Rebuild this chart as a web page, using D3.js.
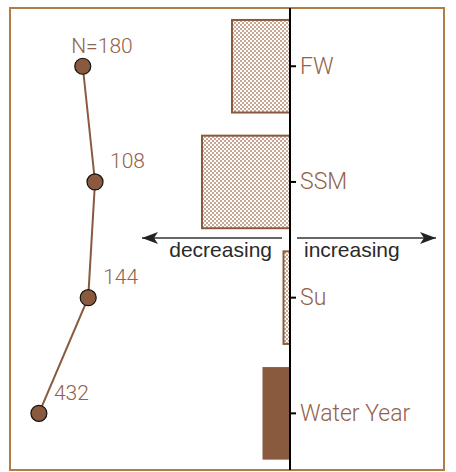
<!DOCTYPE html>
<html>
<head>
<meta charset="utf-8">
<script src="https://cdn.jsdelivr.net/npm/d3@7"></script>
<style>
  html, body { margin: 0; padding: 0; background: #fff; }
  svg { display: block; }
  text { font-family: "Liberation Sans", Arial, sans-serif; }
</style>
</head>
<body>
<script>
// ---- data ----
const categories = ["FW", "SSM", "Su", "Water Year"];
const changeValues = [-5.8, -8.8, -0.65, -2.75];   // bar extent (negative = decreasing)
const solidCategories = ["Water Year"];
const sampleSizes = [180, 108, 144, 432];
const lineValues = [0.428, 0.5, 0.46, 0.17];
const directionLabels = ["decreasing", "increasing"];

// ---- layout ----
const W = 456, H = 472;
const frame = { x0: 10, y0: 8, x1: 444, y1: 470 };
const brown = "#8a5a3e";
const textBrown = "#93624a";
const labelFont = "Roboto, 'Liberation Sans', Arial, sans-serif";

const svg = d3.select("body").append("svg")
  .attr("width", W).attr("height", H);

const defs = svg.append("defs");
const pat = defs.append("pattern")
  .attr("id", "checks").attr("patternUnits", "userSpaceOnUse")
  .attr("width", 4).attr("height", 4);
pat.append("rect").attr("width", 4).attr("height", 4).attr("fill", "#fff");
pat.append("rect").attr("x", 0).attr("y", 0).attr("width", 2).attr("height", 2).attr("fill", "#c8a693");
pat.append("rect").attr("x", 2).attr("y", 2).attr("width", 2).attr("height", 2).attr("fill", "#c8a693");

defs.append("marker")
  .attr("id", "arrow").attr("viewBox", "0 0 16 12")
  .attr("refX", 16).attr("refY", 6)
  .attr("markerWidth", 16).attr("markerHeight", 12)
  .attr("markerUnits", "userSpaceOnUse")
  .attr("orient", "auto")
  .append("path").attr("d", "M0,0 L16,6 L0,12 L4,6 Z").attr("fill", "#222");

// scales
const y = d3.scaleBand().domain(categories)
  .range([8.4, 471.2]).paddingInner(0.2).paddingOuter(0.1);
const x = d3.scaleLinear().domain([-28, 15.4]).range([frame.x0, frame.x1]);
const xLine = d3.scaleLinear().domain([0, 1]).range([10, 180]);

// frame
svg.append("rect")
  .attr("x", frame.x0).attr("y", frame.y0)
  .attr("width", frame.x1 - frame.x0).attr("height", frame.y1 - frame.y0)
  .attr("fill", "none").attr("stroke", "#b27c45").attr("stroke-width", 2);

// bars
svg.selectAll("rect.bar").data(categories).join("rect")
  .attr("class", "bar")
  .attr("x", (d, i) => x(Math.min(0, changeValues[i])))
  .attr("y", d => y(d))
  .attr("width", (d, i) => Math.abs(x(changeValues[i]) - x(0)))
  .attr("height", y.bandwidth())
  .attr("fill", d => solidCategories.includes(d) ? brown : "url(#checks)")
  .attr("stroke", d => solidCategories.includes(d) ? "none" : brown)
  .attr("stroke-width", 2);

// zero axis with category ticks
const axis = svg.append("g")
  .attr("transform", `translate(${x(0)},0)`)
  .call(d3.axisRight(y).tickSize(6).tickPadding(4));
axis.select(".domain").remove();
axis.selectAll(".tick line").attr("stroke", "#000").attr("stroke-width", 2);
axis.selectAll(".tick text")
  .attr("fill", textBrown).attr("font-size", 23).attr("font-weight", 300)
  .style("font-family", labelFont);
svg.append("line")
  .attr("x1", x(0)).attr("x2", x(0))
  .attr("y1", frame.y0).attr("y2", frame.y1)
  .attr("stroke", "#000").attr("stroke-width", 2);

// direction arrows
const arrowY = 238;
svg.append("line")
  .attr("x1", x(0) - 8).attr("x2", 142)
  .attr("y1", arrowY).attr("y2", arrowY)
  .attr("stroke", "#333").attr("stroke-width", 1.5)
  .attr("marker-end", "url(#arrow)");
svg.append("line")
  .attr("x1", x(0) + 7).attr("x2", 436)
  .attr("y1", arrowY).attr("y2", arrowY)
  .attr("stroke", "#333").attr("stroke-width", 1.5)
  .attr("marker-end", "url(#arrow)");
svg.append("text")
  .attr("x", x(0) - 18).attr("y", 256.5)
  .attr("text-anchor", "end").attr("font-size", 21).attr("fill", "#2a2a2a")
  .text(directionLabels[0]);
svg.append("text")
  .attr("x", x(0) + 14).attr("y", 256.5)
  .attr("text-anchor", "start").attr("font-size", 21).attr("fill", "#2a2a2a")
  .text(directionLabels[1]);

// sample size line
const cy = d => y(d) + y.bandwidth() / 2;
const pts = categories.map((c, i) => [xLine(lineValues[i]), cy(c)]);
svg.append("path")
  .attr("d", d3.line()(pts))
  .attr("fill", "none").attr("stroke", brown).attr("stroke-width", 2);
svg.selectAll("circle.pt").data(pts).join("circle")
  .attr("class", "pt")
  .attr("cx", d => d[0]).attr("cy", d => d[1]).attr("r", 8)
  .attr("fill", brown).attr("stroke", "#111").attr("stroke-width", 1.2);
svg.selectAll("text.n").data(pts).join("text")
  .attr("class", "n")
  .attr("x", d => d[0] + 15).attr("y", d => d[1] - 13.5)
  .attr("font-size", 21).attr("font-weight", 300).attr("fill", textBrown)
  .style("font-family", labelFont)
  .text((d, i) => sampleSizes[i]);
svg.append("text")
  .attr("x", pts[0][0] + 15).attr("y", pts[0][1] - 13.5)
  .attr("text-anchor", "end").attr("font-size", 21).attr("font-weight", 300).attr("fill", textBrown)
  .style("font-family", labelFont)
  .text("N=");
</script>
</body>
</html>
